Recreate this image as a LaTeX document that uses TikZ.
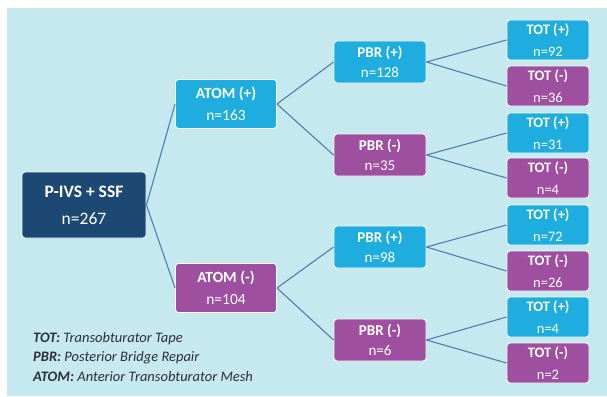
\documentclass[tikz,border=0pt]{standalone}
\usepackage{fontspec}
\setmainfont{Carlito}
\definecolor{bgblue}{HTML}{C6E8EF}
\definecolor{cyanbox}{HTML}{1FADE0}
\definecolor{purplebox}{HTML}{9E4F9F}
\definecolor{navybox}{HTML}{1D4873}
\definecolor{linkcol}{HTML}{4D7FB0}
\definecolor{legendcol}{HTML}{2B3038}
\begin{document}
\begin{tikzpicture}[x=1pt,y=-1pt,
  box/.style={rectangle, rounded corners=3pt, draw=white!85!bgblue, line width=0.9pt,
    text=white, align=center, inner sep=0pt},
  rootbox/.style={box, fill=navybox, minimum width=124pt, minimum height=66pt,
    font=\fontsize{17.5}{21}\selectfont},
  atombox/.style={box, minimum width=101pt, minimum height=49pt,
    font=\fontsize{15.5}{18.5}\selectfont},
  pbrbox/.style={box, minimum width=92pt, minimum height=42pt,
    font=\fontsize{15}{18}\selectfont},
  totbox/.style={box, minimum width=82pt, minimum height=40pt,
    font=\fontsize{14.5}{17.4}\selectfont},
  posfill/.style={fill=cyanbox},
  negfill/.style={fill=purplebox},
  link/.style={draw=linkcol, line width=1.1pt},
  legend/.style={anchor=west, text=legendcol, font=\fontsize{14.5}{17}\selectfont\itshape, inner sep=0pt}
]
\useasboundingbox (0,0) rectangle (607,396);
\fill[white] (0,0) rectangle (607,396);
\fill[bgblue] (7,8) rectangle (607,396);

\node[rootbox] (root) at (84,205) {\textbf{P-IVS + SSF}\\[6pt]n=267};

\node[atombox,posfill] (ap) at (226,104) {\textbf{ATOM (+)}\\[4pt]n=163};
\node[atombox,negfill] (an) at (226,288) {\textbf{ATOM (-)}\\[4pt]n=104};

\node[pbrbox,posfill] (p1) at (380,62) {\textbf{PBR (+)}\\[2pt]n=128};
\node[pbrbox,negfill] (p2) at (380,155) {\textbf{PBR (-)}\\[2pt]n=35};
\node[pbrbox,posfill] (p3) at (380,247) {\textbf{PBR (+)}\\[2pt]n=98};
\node[pbrbox,negfill] (p4) at (380,340) {\textbf{PBR (-)}\\[2pt]n=6};

\node[totbox,posfill] (t1) at (548,40) {\textbf{TOT (+)}\\[4pt]n=92};
\node[totbox,negfill] (t2) at (548,86) {\textbf{TOT (-)}\\[4pt]n=36};
\node[totbox,posfill] (t3) at (548,133) {\textbf{TOT (+)}\\[4pt]n=31};
\node[totbox,negfill] (t4) at (548,178) {\textbf{TOT (-)}\\[4pt]n=4};
\node[totbox,posfill] (t5) at (548,225) {\textbf{TOT (+)}\\[4pt]n=72};
\node[totbox,negfill] (t6) at (548,271) {\textbf{TOT (-)}\\[4pt]n=26};
\node[totbox,posfill] (t7) at (548,317) {\textbf{TOT (+)}\\[4pt]n=4};
\node[totbox,negfill] (t8) at (548,363) {\textbf{TOT (-)}\\[4pt]n=2};

\draw[link] (root.east) -- (ap.west);
\draw[link] (root.east) -- (an.west);
\draw[link] (ap.east) -- (p1.west);
\draw[link] (ap.east) -- (p2.west);
\draw[link] (an.east) -- (p3.west);
\draw[link] (an.east) -- (p4.west);
\draw[link] (p1.east) -- (t1.west);
\draw[link] (p1.east) -- (t2.west);
\draw[link] (p2.east) -- (t3.west);
\draw[link] (p2.east) -- (t4.west);
\draw[link] (p3.east) -- (t5.west);
\draw[link] (p3.east) -- (t6.west);
\draw[link] (p4.east) -- (t7.west);
\draw[link] (p4.east) -- (t8.west);

\node[legend] (l1) at (33,339) {\textbf{TOT:} Transobturator Tape};
\node[legend] (l2) at (33,358) {\textbf{PBR:} Posterior Bridge Repair};
\node[legend] (l3) at (33,377) {\textbf{ATOM:} Anterior Transobturator Mesh};
\end{tikzpicture}
\end{document}
